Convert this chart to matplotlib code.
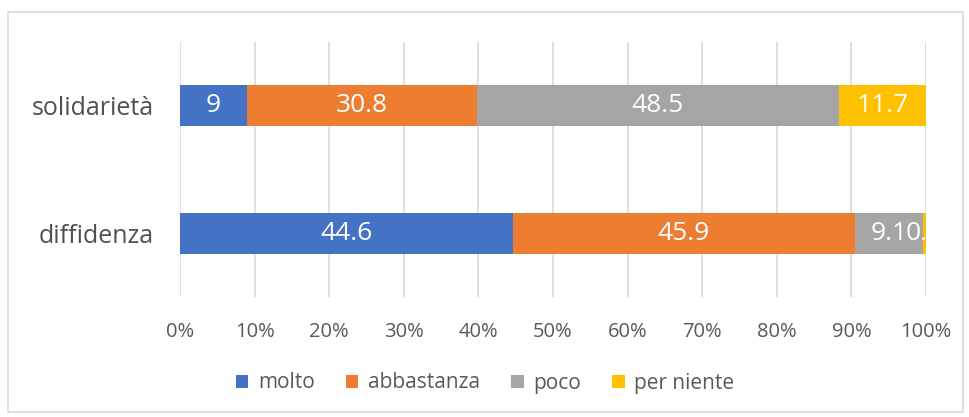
import matplotlib
matplotlib.use("Agg")
import matplotlib.pyplot as plt
from matplotlib.patches import Rectangle
import numpy as np

plt.rcParams['font.family'] = ['Open Sans', 'DejaVu Sans']

categories = ["diffidenza", "solidarietà"]
series = ["molto", "abbastanza", "poco", "per niente"]
values = {
    "molto": [44.6, 9.0],
    "abbastanza": [45.9, 30.8],
    "poco": [9.1, 48.5],
    "per niente": [0.4, 11.7],
}
labels = {
    "molto": ["44.6", "9"],
    "abbastanza": ["45.9", "30.8"],
    "poco": ["9.1", "48.5"],
    "per niente": ["0.4", "11.7"],
}
colors = ["#4472C4", "#ED7D31", "#A5A5A5", "#FFC000"]
xticks = np.arange(0, 101, 10)

fig = plt.figure(figsize=(9.70, 4.17), dpi=100)
fig.patches.append(Rectangle((8/970, 1-412/417), 955/970, 400/417, transform=fig.transFigure,
                             fill=False, edgecolor="#D9D9D9", linewidth=1.2))
ax = fig.add_axes([180/970, 1-297/417, 746/970, 255/417])

y = np.arange(len(categories))
left = np.zeros(len(categories))
for s, c in zip(series, colors):
    v = np.array(values[s])
    bars = ax.barh(y, v, left=left, height=0.32, color=c, label=s, zorder=3)
    for i, (b, lab) in enumerate(zip(bars, labels[s])):
        ax.text(left[i] + v[i] / 2, y[i], lab, ha="center", va="center",
                color="white", fontsize=19, zorder=4, clip_on=True)
    left += v

ax.set_xlim(0, 100)
ax.set_ylim(-0.5, 1.5)
ax.set_xticks(xticks)
ax.set_xticklabels([f"{t}%" for t in xticks], fontsize=14.5, color="#595959")
ax.set_yticks(y)
ax.set_yticklabels(categories, fontsize=18, color="#505050")
ax.tick_params(axis="both", length=0)
ax.tick_params(axis="x", pad=18)
ax.tick_params(axis="y", pad=19)
ax.grid(axis="x", color="#D9D9D9", linewidth=1.2, zorder=0)
for sp in ax.spines.values():
    sp.set_visible(False)

leg = fig.legend(loc="center", bbox_to_anchor=(0.5, 1-383/417), ncol=4, frameon=False,
                 fontsize=15, handlelength=0.6, handleheight=0.6, handletextpad=0.45,
                 columnspacing=1.5)
for t in leg.get_texts():
    t.set_color("#595959")

fig.savefig("out.png", dpi=100)
